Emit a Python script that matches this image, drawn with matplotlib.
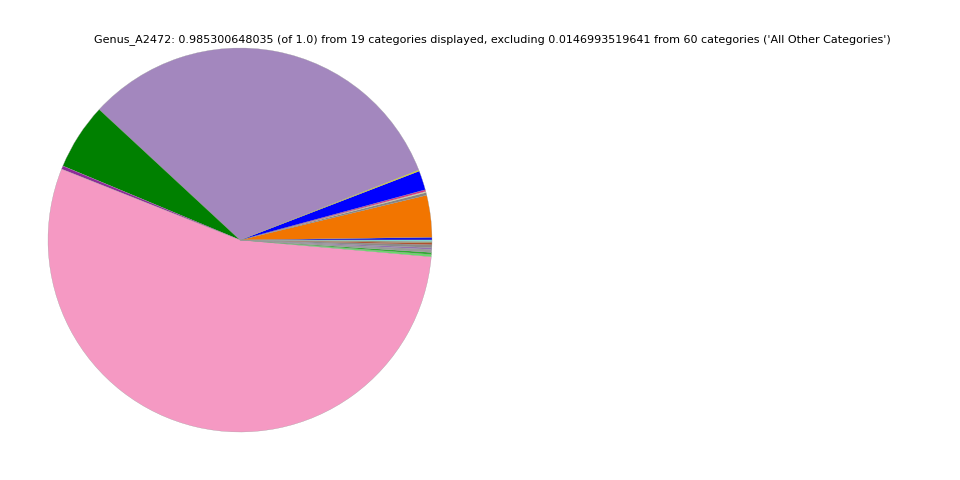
import matplotlib
matplotlib.use("Agg")
import matplotlib.pyplot as plt

title = ("Genus_A2472: 0.985300648035 (of 1.0) from 19 categories displayed, "
         "excluding 0.0146993519641 from 60 categories ('All Other Categories')")

categories = [f"Genus_{i+1}" for i in range(19)]
values = [0.0023, 0.0350, 0.0022, 0.0010, 0.0014, 0.0162, 0.0010, 0.3195,
          0.0556, 0.0028, 0.5428, 0.0018, 0.0018, 0.0024, 0.0015, 0.0024,
          0.0015, 0.0012, 0.0012]
colors = ["#1414e0", "#f27500", "#858585", "#e8dca8", "#e3287d", "#0000ff",
          "#e8e800", "#a387be", "#008000", "#8e2a9a", "#f599c3", "#66dd66",
          "#33aa33", "#9a9a9a", "#9370b0", "#8a8a8a", "#b05030", "#a09050",
          "#80e0e0"]

fig = plt.figure(figsize=(9.6, 4.8), dpi=100)
ax = fig.add_axes([48 / 960, 48 / 480, 384 / 960, 384 / 480])
ax.pie(values, colors=colors, startangle=0, counterclock=True, normalize=True,
       wedgeprops=dict(edgecolor="#999999", linewidth=0.2))
ax.set_xlim(-1, 1)
ax.set_ylim(-1, 1)
ax.set_aspect("equal")
fig.text(492 / 960, 1 - 40 / 480, title, ha="center", va="center", fontsize=8)
fig.savefig("out.png", dpi=100)
